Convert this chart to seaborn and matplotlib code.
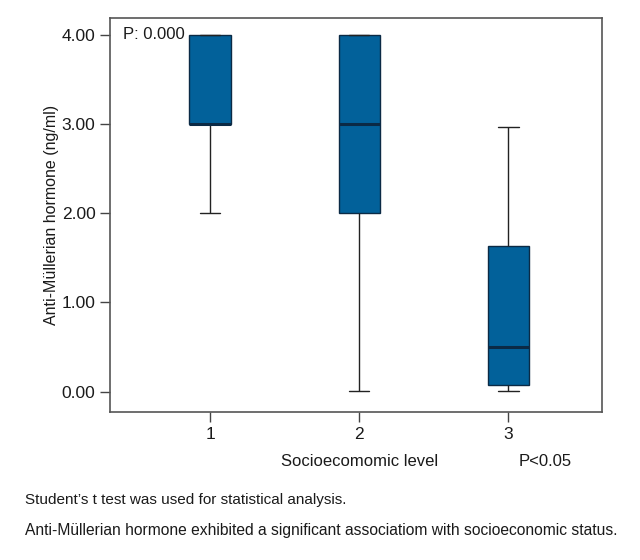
#Lets import the libraries
import pandas as pd
import seaborn as sns
import matplotlib.pyplot as plt

#The values (min, Q1, median, Q3, max for every level)
levels = ['1', '2', '3']
level_1 = [2.00, 3.00, 3.00, 4.00, 4.00]
level_2 = [0.01, 2.00, 3.00, 4.00, 4.00]
level_3 = [0.01, 0.08, 0.50, 1.63, 2.97]
y_ticks = [0.0, 1.0, 2.0, 3.0, 4.0]

#Lets build a long dataframe for seaborn
df = pd.DataFrame({
    'level': [levels[0]] * len(level_1) + [levels[1]] * len(level_2) + [levels[2]] * len(level_3),
    'amh': level_1 + level_2 + level_3,
})

sns.set_style('ticks')
plt.rcParams['font.family'] = ['Liberation Sans', 'DejaVu Sans']
plt.rcParams['text.color'] = '#1a1a1a'

fig = plt.figure(figsize=(6.4, 5.6), dpi=100)
ax = fig.add_axes([0.172, 0.264, 0.769, 0.704])

sns.boxplot(data=df, x='level', y='amh', order=levels, ax=ax, width=0.275,
            color='#02619a', saturation=1, whis=1.5, showfliers=False,
            boxprops=dict(edgecolor='#0b2a45', linewidth=1.0),
            medianprops=dict(color='#0b2a45', linewidth=2.2),
            whiskerprops=dict(color='#222222', linewidth=1.0),
            capprops=dict(color='#222222', linewidth=1.0))

ax.set_xlim(-0.67, 2.63)
ax.set_ylim(-0.23, 4.19)
ax.set_yticks(y_ticks)
ax.set_yticklabels(['%.2f' % v for v in y_ticks])
ax.tick_params(axis='both', length=7, width=1, color='#444444', labelsize=12.5,
               labelcolor='#1a1a1a')
ax.set_xlabel('')
ax.set_ylabel('Anti-Müllerian hormone (ng/ml)', fontsize=11.5, labelpad=2, color='#1a1a1a')
for s in ax.spines.values():
    s.set_visible(True)
    s.set_color('#555555')
    s.set_linewidth(1.2)

ax.text(-0.585, 4.0, 'P: 0.000', fontsize=12, va='center', ha='left')

#Labels under the axis
fig.text(360 / 640, 1 - 462 / 560, 'Socioecomomic level', fontsize=12, ha='center', va='center')
fig.text(545 / 640, 1 - 462 / 560, 'P<0.05', fontsize=12, ha='center', va='center')
fig.text(25 / 640, 1 - 500 / 560, 'Student\u2019s t test was used for statistical analysis.',
         fontsize=11, ha='left', va='center')
fig.text(25 / 640, 1 - 530 / 560,
         'Anti-Müllerian hormone exhibited a significant associatiom with socioeconomic status.',
         fontsize=11.25, ha='left', va='center')

plt.savefig('out.png', dpi=100)
